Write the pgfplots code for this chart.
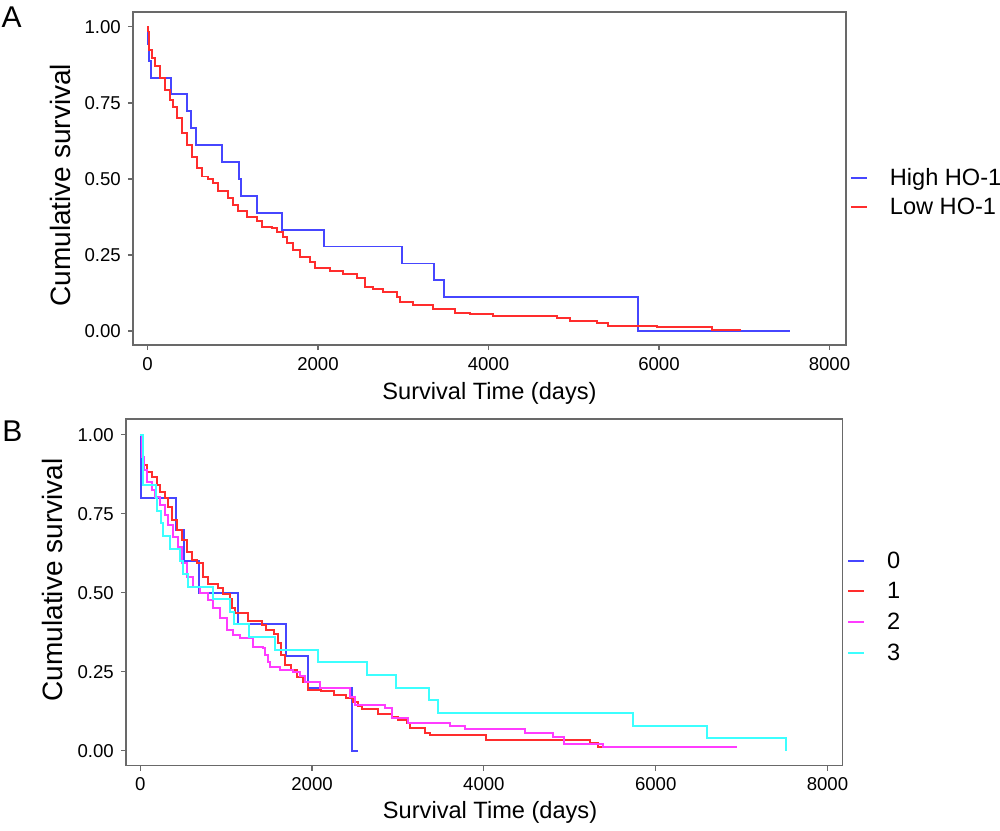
\documentclass[border=0pt]{standalone}
\usepackage{fontspec}
\setmainfont{Liberation Sans}
\usepackage{pgfplots}
\pgfplotsset{compat=1.18}
\definecolor{axgray}{RGB}{105,105,105}
\definecolor{kmblue}{RGB}{70,70,255}
\definecolor{kmred}{RGB}{255,45,45}
\definecolor{kmmag}{RGB}{255,60,255}
\definecolor{kmcyan}{RGB}{60,255,255}
\pgfplotsset{
  km/.style={
    scale only axis,
    axis line style={axgray,line width=0.6pt},
    tick style={axgray,line width=0.6pt},
    tick align=outside,
    major tick length=2.6pt,
    xtick pos=bottom, ytick pos=left,
    xtick={0,2000,4000,6000,8000},
    ytick={0,0.25,0.5,0.75,1},
    yticklabels={0.00,0.25,0.50,0.75,1.00},
    scaled x ticks=false,
    /pgf/number format/1000 sep={},
    /pgf/number format/assume math mode=true,
    tick label style={font=\fontsize{9.3}{11}\selectfont, black},
    xlabel style={font=\fontsize{11.8}{14}\selectfont},
    ylabel style={font=\fontsize{14}{16}\selectfont},
    legend style={draw=none, fill=none, inner sep=0pt, outer sep=0pt, anchor=west,
      font=\fontsize{11.8}{14}\selectfont,
      nodes={inner sep=0pt, text height=8.6pt, text depth=2.4pt},
      /tikz/every odd column/.append style={column sep=11pt}},
    legend cell align=left,
    legend image code/.code={\draw[#1] (0pt,0.6pt) -- (8pt,0.6pt);},
    const plot,
    no marks,
  }
}
\begin{document}
\begin{tikzpicture}
\useasboundingbox (0,0) rectangle (500pt,415pt);
\node[font=\fontsize{15}{17}\selectfont] at (5.8pt,406.5pt) {A};
\node[font=\fontsize{15}{17}\selectfont] at (6.2pt,199.5pt) {B};
% Panel A
\begin{axis}[km, at={(66.5pt,242.5pt)}, anchor=south west,
  width=356.5pt, height=166.5pt,
  xmin=-170, xmax=8194, ymin=-0.046, ymax=1.049,
  xlabel={Survival Time (days)}, ylabel={Cumulative survival},
  xlabel style={at={(axis description cs:0.5,-0.144)}, anchor=center},
  ylabel style={at={(axis description cs:-0.102,0.48)}, anchor=center},
  legend style={at={(axis description cs:1.0056,0.455)}, row sep=3.5pt}]
\addplot[kmblue, line width=0.95pt] coordinates {
(0,1) (5,0.944) (21,0.889) (37,0.833) (272,0.778) (467,0.722) (510,0.667)
(569,0.611) (870,0.556) (1070,0.5) (1097,0.444) (1281,0.389) (1574,0.333)
(2074,0.278) (2982,0.222) (3364,0.167) (3482,0.111) (5758,0) (7537,0)};
\addlegendentry{High HO-1}
\addplot[kmred, line width=0.95pt] coordinates {
(0,1) (9,0.985) (21,0.924) (49,0.898) (88,0.87) (147,0.833) (205,0.793)
(264,0.76) (303,0.738) (343,0.70) (401,0.65) (460,0.612) (518,0.573)
(577,0.535) (636,0.508) (713,0.5) (772,0.488) (831,0.461) (948,0.436)
(1006,0.414) (1065,0.395) (1164,0.376) (1281,0.362) (1340,0.343)
(1457,0.338) (1516,0.327) (1593,0.31) (1633,0.288) (1710,0.266)
(1789,0.244) (1906,0.228) (1965,0.206) (2141,0.198) (2297,0.1875)
(2454,0.173) (2551,0.146) (2649,0.137) (2766,0.129) (2923,0.113)
(2962,0.094) (3118,0.086) (3352,0.071) (3607,0.058) (3783,0.056)
(4056,0.050) (4800,0.042) (4956,0.034) (5269,0.027) (5405,0.017)
(5973,0.012) (6618,0.004) (6958,0.004)};
\addlegendentry{Low HO-1}
\end{axis}
% Panel B
\begin{axis}[km, at={(63pt,32.15pt)}, anchor=south west,
  width=358.35pt, height=173.35pt,
  xmin=-166, xmax=8177, ymin=-0.047, ymax=1.05,
  xlabel={Survival Time (days)}, ylabel={Cumulative survival},
  xlabel style={at={(axis description cs:0.508,-0.134)}, anchor=center},
  ylabel style={at={(axis description cs:-0.103,0.536)}, anchor=center},
  legend style={at={(axis description cs:1.006,0.455)}, row sep=4.3pt}]
\addplot[kmblue, line width=1pt] coordinates {
(0,1) (3,0.8) (412,0.7) (512,0.6) (680,0.5) (1134,0.4) (1696,0.3)
(1956,0.2) (2468,0) (2538,0)};
\addlegendentry{0}
\addplot[kmred, line width=1pt] coordinates {
(0,1.0) (16,0.952) (35,0.904) (74,0.883) (132,0.867) (190,0.841) (229,0.82)
(287,0.799) (326,0.772) (365,0.73) (424,0.698) (482,0.667) (540,0.63)
(598,0.603) (657,0.593) (734,0.551) (792,0.527) (909,0.514) (967,0.495)
(1044,0.482) (1064,0.451) (1100,0.435) (1250,0.41) (1420,0.398)
(1460,0.382) (1560,0.37) (1600,0.34) (1640,0.303) (1690,0.271)
(1760,0.255) (1820,0.234) (1900,0.218) (1955,0.192) (2100,0.19)
(2250,0.178) (2400,0.168) (2480,0.155) (2540,0.141) (2580,0.131)
(2770,0.118) (2925,0.108) (3000,0.097) (3100,0.087) (3140,0.071)
(3310,0.057) (3370,0.05) (4030,0.035) (5235,0.024) (5325,0.011) (5953,0.011)};
\addlegendentry{1}
\addplot[kmmag, line width=1pt] coordinates {
(0,1.0) (16,0.93) (43,0.888) (74,0.851) (133,0.825) (171,0.804) (229,0.778)
(288,0.746) (326,0.714) (384,0.677) (442,0.646) (482,0.593) (540,0.551)
(617,0.519) (695,0.498) (792,0.477) (850,0.451) (928,0.419) (1006,0.382)
(1083,0.366) (1160,0.356) (1315,0.329) (1432,0.324) (1452,0.303)
(1490,0.282) (1510,0.266) (1626,0.255) (1781,0.25) (1859,0.236)
(1917,0.218) (2092,0.2) (2441,0.171) (2499,0.145) (2848,0.134)
(2926,0.103) (3120,0.089) (3605,0.078) (3780,0.069) (4478,0.057)
(4800,0.044) (4932,0.023) (5382,0.011) (6942,0.011)};
\addlegendentry{2}
\addplot[kmcyan, line width=1pt] coordinates {
(0,1) (35,0.84) (183,0.8) (200,0.76) (240,0.72) (270,0.68) (346,0.64)
(462,0.6) (500,0.56) (559,0.52) (850,0.48) (1044,0.44) (1094,0.4)
(1269,0.36) (1568,0.32) (2072,0.28) (2635,0.24) (2973,0.2) (3360,0.16)
(3469,0.12) (5739,0.08) (6600,0.04) (7516,0)};
\addlegendentry{3}
\end{axis}
\end{tikzpicture}
\end{document}
